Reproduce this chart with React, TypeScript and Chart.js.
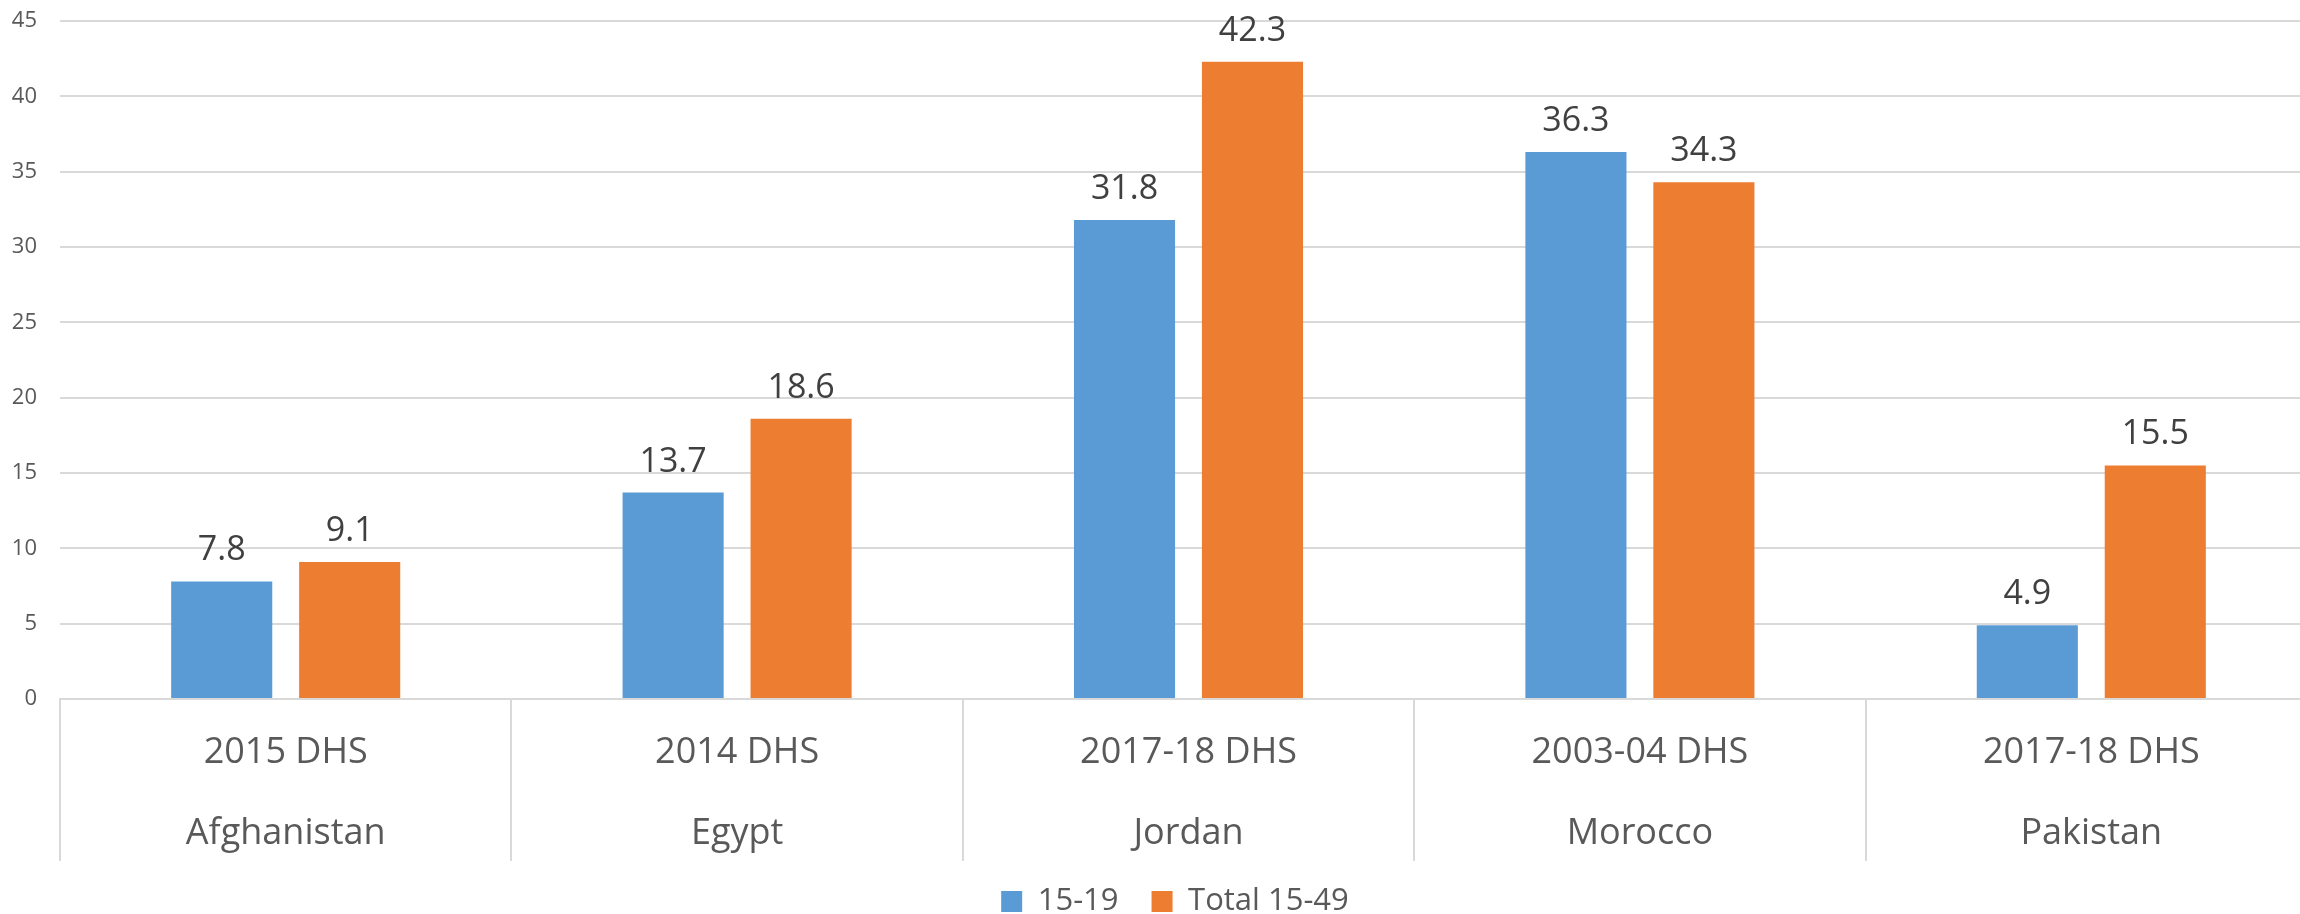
import React, { useEffect, useRef } from "react";
import { Chart, registerables } from "chart.js";

Chart.register(...registerables);

const surveys = ["2015 DHS", "2014 DHS", "2017-18 DHS", "2003-04 DHS", "2017-18 DHS"];
const countries = ["Afghanistan", "Egypt", "Jordan", "Morocco", "Pakistan"];
const seriesNames = ["15-19", "Total 15-49"];
const teenValues = [7.8, 13.7, 31.8, 36.3, 4.9];
const totalValues = [9.1, 18.6, 42.3, 34.3, 15.5];
const yMin = 0;
const yMax = 45;
const yStep = 5;

const FONT = "'Open Sans', 'Liberation Sans', sans-serif";

const valueLabels = {
  id: "valueLabels",
  afterDatasetsDraw(chart: any) {
    const ctx = chart.ctx;
    ctx.save();
    ctx.font = `34px ${FONT}`;
    ctx.fillStyle = "#404040";
    ctx.textAlign = "center";
    ctx.textBaseline = "alphabetic";
    chart.data.datasets.forEach((ds: any, i: number) => {
      chart.getDatasetMeta(i).data.forEach((bar: any, j: number) => {
        ctx.fillText(Number(ds.data[j]).toFixed(1), bar.x, bar.y - 21);
      });
    });
    ctx.restore();
  },
};

export default function App() {
  const ref = useRef<HTMLCanvasElement>(null);

  useEffect(() => {
    if (!ref.current) return;
    const chart = new Chart(ref.current, {
      type: "bar",
      data: {
        labels: surveys.map((s, i) => [s, countries[i]]),
        datasets: [
          {
            label: seriesNames[0],
            data: teenValues,
            backgroundColor: "#5B9BD5",
            categoryPercentage: 0.567,
            barPercentage: 0.79,
          },
          {
            label: seriesNames[1],
            data: totalValues,
            backgroundColor: "#ED7D31",
            categoryPercentage: 0.567,
            barPercentage: 0.79,
          },
        ],
      },
      options: {
        responsive: false,
        animation: false,
        devicePixelRatio: 1,
        layout: { padding: { top: 21, left: 0, right: 0, bottom: 0 } },
        plugins: {
          tooltip: { enabled: false },
          legend: {
            position: "bottom",
            labels: {
              boxWidth: 21,
              boxHeight: 21,
              padding: 33,
              color: "#595959",
              font: { family: FONT, size: 31 },
            },
          },
        },
        scales: {
          x: {
            grid: {
              offset: true,
              drawOnChartArea: false,
              color: "#d9d9d9",
              lineWidth: 2,
              tickLength: 162,
            },
            border: { display: true, color: "#d9d9d9", width: 2 },
            ticks: {
              color: "#595959",
              font: { family: FONT, size: 36, lineHeight: 2.25 },
              padding: -148.5,
              maxRotation: 0,
              autoSkip: false,
            },
            afterFit: (s: any) => {
              s.height = 154;
            },
          },
          y: {
            min: yMin,
            max: yMax,
            ticks: {
              stepSize: yStep,
              color: "#595959",
              font: { family: FONT, size: 22 },
              padding: 23,
            },
            grid: { color: "#d9d9d9", lineWidth: 2, drawTicks: false },
            border: { display: false },
            afterFit: (s: any) => {
              s.width = 60;
              s.paddingTop = 0;
              s.paddingBottom = 0;
            },
          },
          yR: {
            position: "right",
            display: true,
            grid: { display: false, drawTicks: false },
            border: { display: false },
            ticks: { display: false },
            afterFit: (s: any) => {
              s.width = 33;
              s.paddingTop = 0;
              s.paddingBottom = 0;
            },
          },
        },
      },
      plugins: [valueLabels],
    });
    return () => chart.destroy();
  }, []);

  return (
    <div
      style={{
        position: "fixed",
        left: 0,
        top: 0,
        width: 2300,
        height: 914,
        overflow: "hidden",
        background: "#fff",
      }}
    >
      <canvas ref={ref} width={2350} height={927} style={{ display: "block" }} />
    </div>
  );
}
